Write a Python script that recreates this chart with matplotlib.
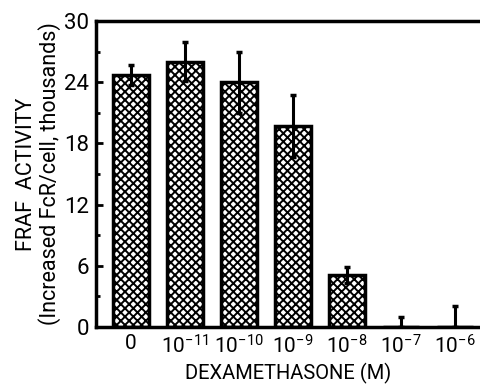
import matplotlib
matplotlib.use("Agg")
import matplotlib.pyplot as plt
import numpy as np

categories = ["0", r"$10^{-11}$", r"$10^{-10}$", r"$10^{-9}$", r"$10^{-8}$", r"$10^{-7}$", r"$10^{-6}$"]
values = [24.7, 26.0, 24.0, 19.7, 5.1, 0.0, 0.0]
errors = [1.0, 1.9, 3.0, 3.0, 0.8, 1.0, 2.1]

plt.rcParams['hatch.linewidth'] = 1.4
plt.rcParams['font.family'] = ['Roboto', 'DejaVu Sans']
plt.rcParams['mathtext.fontset'] = 'custom'
plt.rcParams['mathtext.rm'] = 'Roboto'
plt.rcParams['mathtext.it'] = 'Roboto'
plt.rcParams['mathtext.default'] = 'rm'

fig = plt.figure(figsize=(4.81, 3.86), dpi=100)
ax = fig.add_axes([96/481, 1-327/386, 1-96/481, (327-21)/386])

x = np.arange(len(values))
lower = [min(e, v) for e, v in zip(errors, values)]
ax.bar(x, values, width=0.67, color='white', edgecolor='black', linewidth=2.5,
       hatch='xxxx', zorder=2)
ax.errorbar(x, values, yerr=[lower, errors], fmt='none', ecolor='black',
            elinewidth=2.2, capsize=2.5, capthick=2.5, zorder=3)

ax.set_xlim(-0.65, 6.48)
ax.set_ylim(0, 30)
ax.set_xticks(x)
ax.set_xticklabels(categories, fontsize=15)
ax.set_yticks([0, 6, 12, 18, 24, 30])
ax.set_yticks([3, 9, 15, 21, 27], minor=True)
ax.tick_params(axis='y', which='major', direction='in', length=5, width=2, labelsize=16, pad=5)
ax.tick_params(axis='y', which='minor', direction='in', length=3, width=2)
ax.tick_params(axis='x', which='major', length=0, labelsize=15, pad=5)

for s in ['left', 'top', 'bottom']:
    ax.spines[s].set_linewidth(2.5)
ax.spines['right'].set_visible(False)

ax.set_xlabel("DEXAMETHASONE (M)", fontsize=14.5, labelpad=4)
ax.set_ylabel("FRAF  ACTIVITY\n(Increased FcR/cell, thousands)",
              fontsize=15.5, linespacing=1.05)
ax.yaxis.set_label_coords(-0.09, 0.5)

fig.savefig("out.png", dpi=100)
